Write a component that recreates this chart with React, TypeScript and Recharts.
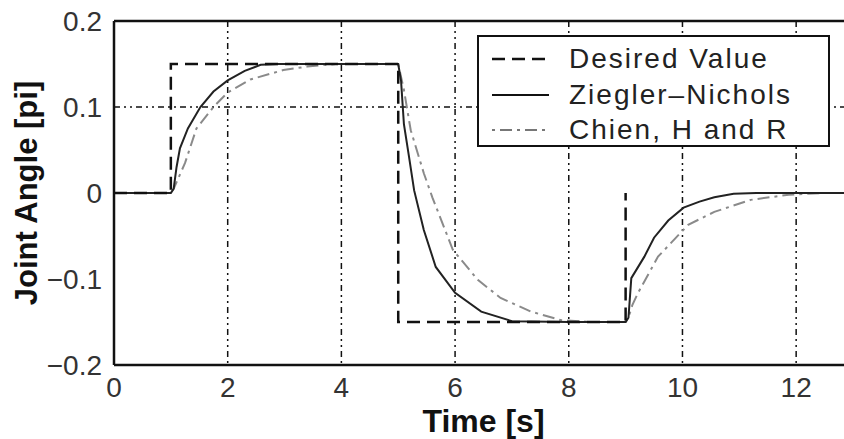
import {
  LineChart,
  Line,
  XAxis,
  YAxis,
  CartesianGrid,
  ReferenceLine,
  Legend,
} from "recharts";

// values
const xTicks = [0, 2, 4, 6, 8, 10, 12];
const yTicks = [-0.2, -0.1, 0, 0.1, 0.2];

const desiredT = [0, 1, 1, 5, 5, 9, 9];
const desiredV = [0, 0, 0.15, 0.15, -0.15, -0.15, 0];

const znT = [
  0, 1, 1.05, 1.1, 1.16, 1.3, 1.52, 1.75, 2.0, 2.3, 2.58, 2.9, 3.5, 4.5, 5.0,
  5.05, 5.1, 5.19, 5.28, 5.45, 5.66, 6.0, 6.46, 7.0, 8.0, 9.0, 9.05, 9.1, 9.33,
  9.5, 9.75, 10.02, 10.3, 10.56, 10.9, 11.3, 12, 13,
];
const znV = [
  0, 0, 0.005, 0.03, 0.052, 0.075, 0.1, 0.118, 0.131, 0.142, 0.149, 0.15, 0.15,
  0.15, 0.15, 0.13, 0.08, 0.042, 0.003, -0.043, -0.086, -0.116, -0.138, -0.149,
  -0.15, -0.15, -0.145, -0.099, -0.074, -0.052, -0.032, -0.017, -0.01, -0.005,
  -0.001, 0, 0, 0,
];

const chrT = [
  0, 1, 1.05, 1.15, 1.25, 1.45, 1.75, 2.0, 2.4, 2.98, 3.4, 3.9, 4.5, 5.0, 5.1,
  5.22, 5.45, 5.6, 5.96, 6.4, 6.8, 7.34, 7.87, 8.4, 9.0, 9.05, 9.12, 9.22, 9.57,
  10.1, 10.56, 11.2, 11.87, 12.5, 13,
];
const chrV = [
  0, 0, 0.005, 0.02, 0.035, 0.075, 0.1, 0.117, 0.132, 0.143, 0.147, 0.15, 0.15,
  0.15, 0.12, 0.073, 0.023, -0.005, -0.066, -0.101, -0.122, -0.138, -0.148,
  -0.15, -0.15, -0.145, -0.13, -0.116, -0.074, -0.037, -0.022, -0.008, -0.002,
  0, 0,
];

const toRows = (t: number[], v: number[]) => t.map((x, i) => ({ t: x, v: v[i] }));

const desiredData = toRows(desiredT, desiredV);
const znData = toRows(znT, znV);
const chrData = toRows(chrT, chrV);

const gridDash = "6 4 2 4 2 4";
const tickFont = { fontFamily: "'Liberation Sans', Arial, sans-serif", fontSize: 28, fill: "#333" };

const legendItems = [
  { label: "Desired Value", stroke: "#111", dash: "13 7", width: 2.5 },
  { label: "Ziegler\u2013Nichols", stroke: "#111", dash: undefined, width: 2 },
  { label: "Chien, H and R", stroke: "#777", dash: "3 5 12 5", width: 2 },
];

function LegendBox() {
  return (
    <div
      style={{
        width: 349,
        height: 108,
        border: "2px solid #111",
        background: "#fff",
        boxSizing: "content-box",
        position: "relative",
      }}
    >
      {legendItems.map((it, i) => (
        <div
          key={it.label}
          style={{
            position: "absolute",
            left: 13,
            top: 6 + i * 35.5,
            height: 32,
            display: "flex",
            alignItems: "center",
          }}
        >
          <svg width={57} height={10} style={{ marginRight: 20 }}>
            <line
              x1={0}
              y1={5}
              x2={57}
              y2={5}
              stroke={it.stroke}
              strokeWidth={it.width}
              strokeDasharray={it.dash}
            />
          </svg>
          <span
            style={{
              fontFamily: "'Liberation Sans', Arial, sans-serif",
              fontSize: 28,
              letterSpacing: 2,
              color: "#222",
              lineHeight: "32px",
            }}
          >
            {it.label}
          </span>
        </div>
      ))}
    </div>
  );
}

export default function App() {
  return (
    <div
      style={{
        position: "absolute",
        left: 0,
        top: 0,
        width: 844,
        height: 439,
        overflow: "hidden",
        background: "#fff",
      }}
    >
      <LineChart
        width={862}
        height={439}
        margin={{ top: 21, right: 9, left: 14, bottom: 14 }}
      >
        <CartesianGrid
          vertical={true}
          horizontal={false}
          stroke="#111"
          strokeWidth={1.5}
          strokeDasharray={gridDash}
        />
        <XAxis
          type="number"
          dataKey="t"
          domain={[0, 13]}
          ticks={xTicks}
          allowDataOverflow
          axisLine={{ stroke: "#111", strokeWidth: 2.5 }}
          tickLine={false}
          tick={tickFont}
          tickMargin={6}
          height={60}
          label={{
            value: "Time [s]",
            position: "insideBottom",
            offset: -7,
            style: {
              fontFamily: "'Liberation Sans', Arial, sans-serif",
              fontSize: 32,
              fontWeight: "bold",
              fill: "#111",
            },
          }}
        />
        <YAxis
          type="number"
          domain={[-0.2, 0.2]}
          ticks={yTicks}
          allowDataOverflow
          width={100}
          axisLine={{ stroke: "#111", strokeWidth: 2.5 }}
          tickLine={false}
          tick={tickFont}
          tickMargin={6}
          tickFormatter={(v: number) => (v === 0 ? "0" : String(v).replace("-", "\u2212"))}
          label={{
            value: "Joint Angle [pi]",
            angle: -90,
            position: "insideLeft",
            offset: 12,
            style: {
              fontFamily: "'Liberation Sans', Arial, sans-serif",
              fontSize: 31,
              fontWeight: "bold",
              fill: "#111",
              textAnchor: "middle",
            },
          }}
        />
        <ReferenceLine y={0.1} stroke="#111" strokeWidth={1.5} strokeDasharray={gridDash} />
        <ReferenceLine y={0.2} stroke="#111" strokeWidth={2.5} />
        <ReferenceLine x={13} stroke="#111" strokeWidth={2.5} />
        <Line
          data={chrData}
          dataKey="v"
          type="linear"
          stroke="#8a8a8a"
          strokeWidth={2}
          strokeDasharray="3 5 12 5"
          dot={false}
          isAnimationActive={false}
        />
        <Line
          data={znData}
          dataKey="v"
          type="linear"
          stroke="#222"
          strokeWidth={2}
          dot={false}
          isAnimationActive={false}
        />
        <Line
          data={desiredData}
          dataKey="v"
          type="linear"
          stroke="#111"
          strokeWidth={2.5}
          strokeDasharray="13 7"
          dot={false}
          isAnimationActive={false}
        />
        <Legend
          layout="vertical"
          align="center"
          verticalAlign="middle"
          content={() => <LegendBox />}
          wrapperStyle={{ position: "absolute", left: 477, top: 35, width: 353, height: 112 }}
        />
      </LineChart>
    </div>
  );
}
